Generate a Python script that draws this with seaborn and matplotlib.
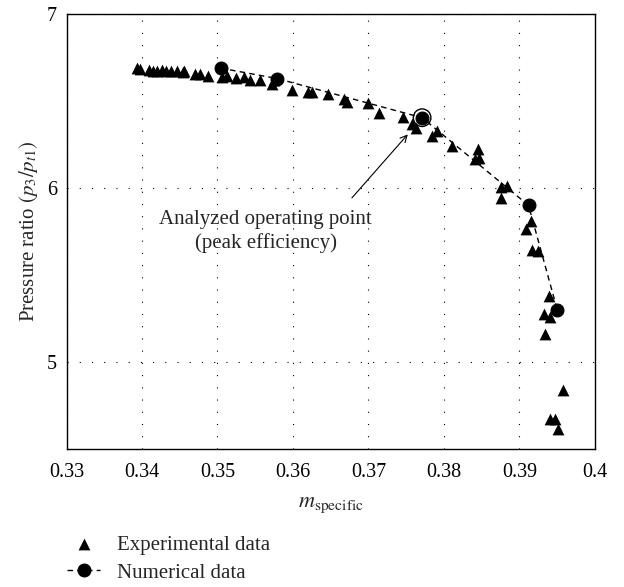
import numpy as np
import pandas as pd
import matplotlib
matplotlib.use("Agg")
import matplotlib.pyplot as plt
import seaborn as sns

# ---- data ----
exp_x = [0.3393, 0.3398, 0.3409, 0.3414, 0.3420, 0.3426, 0.3432, 0.3439, 0.3446, 0.3454,
         0.3456, 0.3470, 0.3477, 0.3487, 0.3506, 0.3513, 0.3525, 0.3535, 0.3543, 0.3556,
         0.3572, 0.3575, 0.3599, 0.3620, 0.3625, 0.3646, 0.3668, 0.3671, 0.3700, 0.3714,
         0.3746, 0.3757, 0.3763, 0.3784, 0.3791, 0.3810, 0.3841, 0.3845, 0.3846, 0.3875,
         0.3876, 0.3883, 0.3908, 0.3915, 0.3916, 0.3925, 0.3933, 0.3934, 0.3939, 0.3941,
         0.3940, 0.3947, 0.3951, 0.3958]
exp_y = [6.689, 6.683, 6.676, 6.672, 6.672, 6.676, 6.672, 6.674, 6.672, 6.668,
         6.672, 6.657, 6.653, 6.646, 6.636, 6.646, 6.631, 6.636, 6.621, 6.621,
         6.599, 6.621, 6.565, 6.554, 6.550, 6.539, 6.513, 6.492, 6.486, 6.432,
         6.406, 6.368, 6.346, 6.299, 6.329, 6.239, 6.164, 6.222, 6.175, 6.008,
         5.943, 6.014, 5.763, 5.810, 5.643, 5.639, 5.274, 5.161, 5.377, 5.257,
         4.670, 4.670, 4.614, 4.841]

num_x = [0.3504, 0.3579, 0.3771, 0.3912, 0.3950]
num_y = [6.689, 6.629, 6.404, 5.900, 5.300]

peak_x = [0.3771]
peak_y = [6.404]

x_ticks = [0.33, 0.34, 0.35, 0.36, 0.37, 0.38, 0.39, 0.40]
x_ticklabels = ["0.33", "0.34", "0.35", "0.36", "0.37", "0.38", "0.39", "0.4"]
y_ticks = [5, 6, 7]
y_ticklabels = ["5", "6", "7"]

annot_text = "Analyzed operating point\n(peak efficiency)"
series_labels = ["Experimental data", "Numerical data"]

exp_df = pd.DataFrame({"m": exp_x, "pr": exp_y})
num_df = pd.DataFrame({"m": num_x, "pr": num_y})

# ---- style ----
sns.set_style("white")
plt.rcParams["font.family"] = ["Liberation Serif", "DejaVu Serif"]
plt.rcParams["mathtext.fontset"] = "stix"

fig = plt.figure(figsize=(6.24, 5.87), dpi=100)
ax = fig.add_axes([66.5 / 624, 1 - 449 / 587, (595 - 66.5) / 624, (449 - 14) / 587])

sns.scatterplot(data=exp_df, x="m", y="pr", marker="^", s=72, color="black",
                edgecolor="black", linewidth=0, ax=ax, label=series_labels[0], zorder=3)
sns.lineplot(data=num_df, x="m", y="pr", sort=False, color="black", linewidth=1.0,
             marker="o", markersize=9.3, markeredgecolor="black", ax=ax,
             label=series_labels[1], zorder=4)
for ln in ax.lines:
    ln.set_dashes((4, 3))

ax.scatter(peak_x, peak_y, s=160, facecolors="none", edgecolors="black",
           linewidths=1.0, zorder=5)

ax.text(0.3564, 5.75, annot_text, ha="center", va="center", fontsize=15,
        linespacing=1.3)
ax.annotate("", xy=(0.3752, 6.308), xytext=(0.3678, 5.943),
            arrowprops=dict(arrowstyle="->", color="black", lw=0.8,
                            shrinkA=0, shrinkB=0, mutation_scale=12))

ax.set_xlim(0.33, 0.40)
ax.set_ylim(4.5, 7.0)
ax.set_xticks(x_ticks)
ax.set_xticklabels(x_ticklabels)
ax.set_yticks(y_ticks)
ax.set_yticklabels(y_ticklabels)
ax.tick_params(direction="in", length=3, width=0.8, labelsize=14.5, colors="black",
               pad=7, top=False, right=False)
ax.tick_params(axis="x", pad=10)

ax.grid(True, color="black", linestyle=(0, (1, 10)), linewidth=0.8)
for sp in ax.spines.values():
    sp.set_visible(True)
    sp.set_color("black")
    sp.set_linewidth(1.0)

ax.set_xlabel(r"$m_{\mathrm{specific}}$", fontsize=16, labelpad=10)
ax.set_ylabel(r"Pressure ratio $(p_3/p_{t1})$", fontsize=15, labelpad=5)

handles, labels = ax.get_legend_handles_labels()
ax.get_legend().remove()
fig.legend(handles, labels, loc="upper left", bbox_to_anchor=(67 / 624, 1 - 535 / 587),
           frameon=False, fontsize=15, handlelength=1.6, handletextpad=0.8,
           labelspacing=0.4, borderaxespad=0, borderpad=0)

fig.savefig("out.png", dpi=100)
